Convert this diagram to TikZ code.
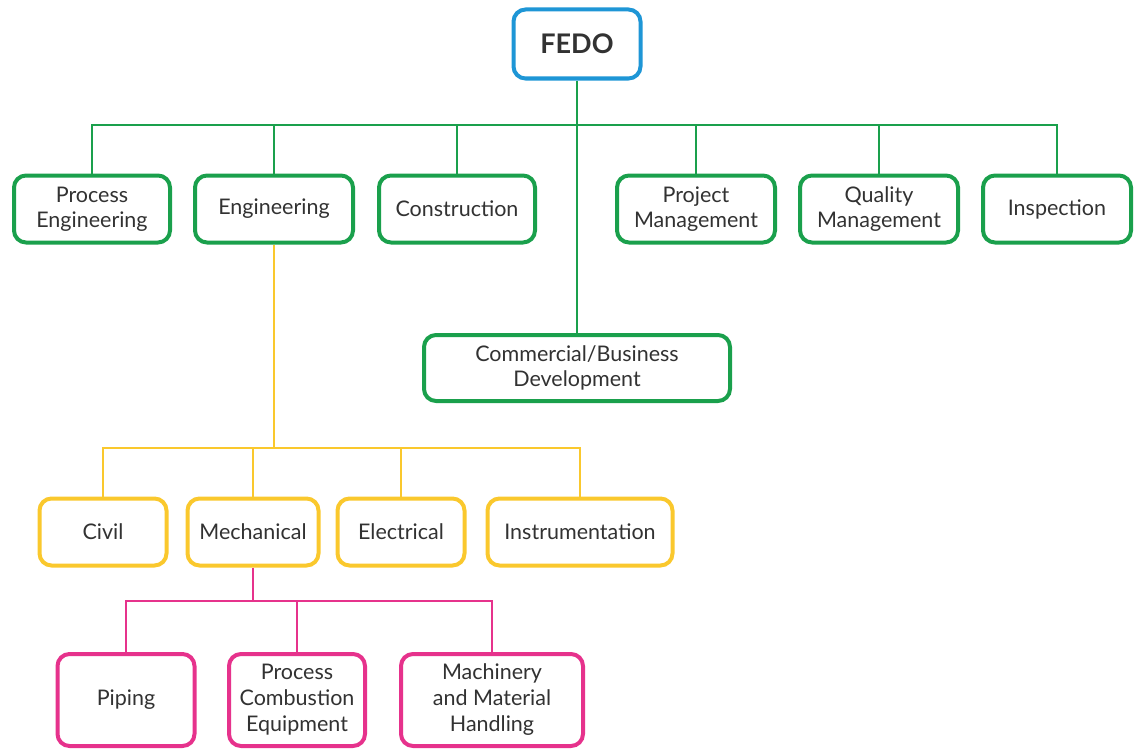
\documentclass[tikz,border=0pt]{standalone}
\usepackage{fontspec}
\setmainfont{Lato}
\definecolor{fedoblue}{RGB}{30,150,214}
\definecolor{fedogreen}{RGB}{26,160,76}
\definecolor{fedoyellow}{RGB}{250,200,45}
\definecolor{fedopink}{RGB}{230,50,140}
\definecolor{fedotext}{RGB}{50,50,50}
\begin{document}
\begin{tikzpicture}[x=1pt, y=-1pt,
		unit/.style={fill=white, line width=4pt, rounded corners=12pt, align=center,
			text=fedotext, font=\fontsize{21.5}{25}\selectfont, inner sep=0pt, minimum height=67pt},
		top/.style={unit, draw=fedoblue, font=\fontsize{27}{30}\selectfont\bfseries, minimum width=127pt, minimum height=69pt},
		dept/.style={unit, draw=fedogreen},
		disc/.style={unit, draw=fedoyellow},
		sub/.style={unit, draw=fedopink, minimum height=92pt, font=\fontsize{21.5}{26}\selectfont}]
		\useasboundingbox (0,0) rectangle (1135,752);
		\node[top] (fedo) at (577,44) {FEDO};
		\node[dept, minimum width=156pt] (proceng) at (92,209) {Process\\Engineering};
		\node[dept, minimum width=158pt] (eng) at (274,209) {Engineering};
		\node[dept, minimum width=156pt] (constr) at (457,209) {Construction};
		\node[dept, minimum width=158pt] (projmgmt) at (696,209) {Project\\Management};
		\node[dept, minimum width=158pt] (qualmgmt) at (879,209) {Quality\\Management};
		\node[dept, minimum width=148pt] (insp) at (1057,209) {Inspection};
		\node[dept, minimum width=306pt, minimum height=66pt] (commerc) at (577,368) {Commercial/Business\\Development};
		\node[disc, minimum width=127pt] (civil) at (103,532) {Civil};
		\node[disc, minimum width=131pt] (mech) at (253,532) {Mechanical};
		\node[disc, minimum width=127pt] (elec) at (401,532) {Electrical};
		\node[disc, minimum width=185pt] (instr) at (580,532) {Instrumentation};
		\node[sub, minimum width=137pt] (piping) at (126,700) {Piping};
		\node[sub, minimum width=136pt] (pce) at (297,700) {Process\\Combustion\\Equipment};
		\node[sub, minimum width=182pt] (mmh) at (492,700) {Machinery\\and Material\\Handling};
		\coordinate (gbus) at (577,125);
		\coordinate (ybus) at (274,448);
		\coordinate (pbus) at (253,601);
		\draw[fedogreen, line width=2pt] (fedo.south) -- (commerc.north);
		\draw[fedogreen, line width=2pt] (proceng.north) |- (gbus) -| (insp.north);
		\foreach \n in {eng, constr, projmgmt, qualmgmt}
			\draw[fedogreen, line width=2pt] (\n.north) -- (\n.north |- gbus);
		\draw[fedoyellow, line width=2pt] (eng.south) -- (ybus);
		\draw[fedoyellow, line width=2pt] (civil.north) |- (ybus) -| (instr.north);
		\foreach \n in {mech, elec}
			\draw[fedoyellow, line width=2pt] (\n.north) -- (\n.north |- ybus);
		\draw[fedopink, line width=2pt] (mech.south) -- (pbus);
		\draw[fedopink, line width=2pt] (piping.north) |- (pbus) -| (mmh.north);
		\draw[fedopink, line width=2pt] (pce.north) -- (pce.north |- pbus);
\end{tikzpicture}
\end{document}
